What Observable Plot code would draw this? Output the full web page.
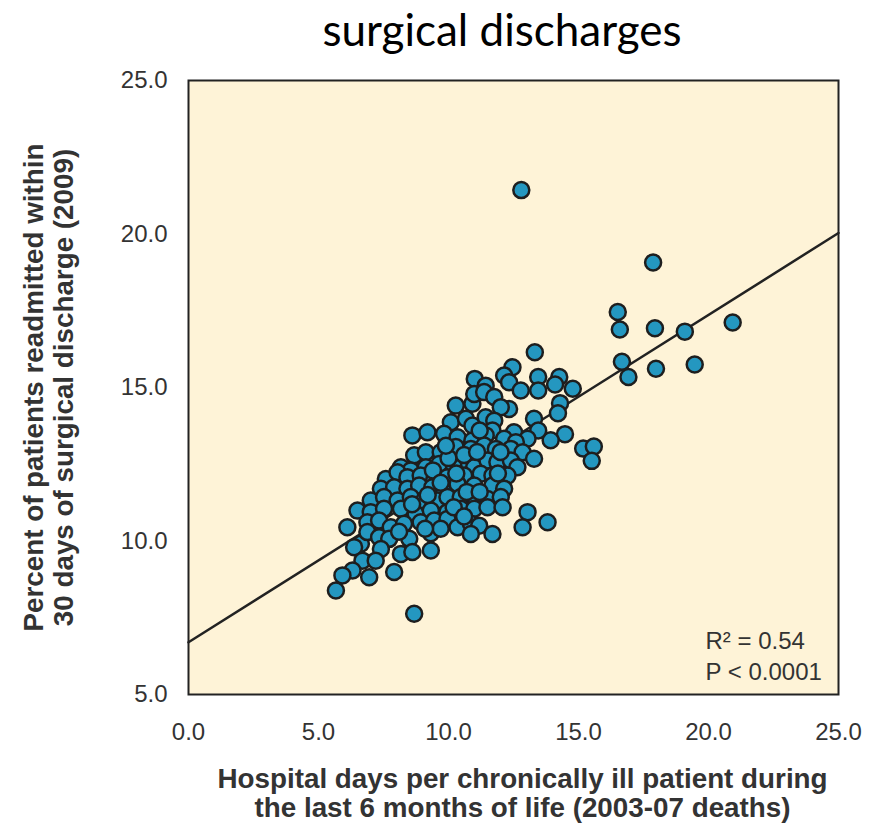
<!DOCTYPE html>
<html>
<head>
<meta charset="utf-8">
<script src="https://cdn.jsdelivr.net/npm/d3@7"></script>
<script src="https://cdn.jsdelivr.net/npm/@observablehq/plot@0.6"></script>
<style>
  body { margin: 0; background: #ffffff; }
  #title {
    width: 879px; height: 56px; box-sizing: border-box;
    padding-left: 125px; text-align: center;
    font-family: Lato, "Open Sans", sans-serif; font-size: 44px;
    line-height: 58px; color: #000;
  }
</style>
</head>
<body>
<div id="title">surgical discharges</div>
<div id="chart"></div>
<script>
// Hospital days per chronically ill patient (x) and % readmitted within 30 days (y)
const hospitalDays = [
  12.80,17.87,16.51,16.59,17.94,19.09,20.93,16.67,16.92,17.98,19.47,13.32,14.26,14.78,14.10,14.29,14.21,14.48,13.93,15.18,15.59,15.51,
  12.46,11.01,11.43,12.14,12.33,12.78,13.45,13.45,
  10.28,10.92,10.99,11.37,11.76,12.33,12.01,
  10.09,10.67,10.92,11.43,11.76,11.69,12.52,13.29,13.45,13.04,
  8.61,9.19,9.83,10.35,10.92,11.43,12.14,12.59,
  8.68,9.13,9.70,10.28,10.86,11.37,11.82,12.40,12.85,13.29,
  8.17,8.55,9.13,9.64,10.22,10.79,10.99,11.50,11.88,12.40,12.65,
  7.59,8.04,8.42,8.93,9.45,9.96,10.60,11.24,11.69,12.27,
  7.40,7.91,8.42,8.87,9.38,9.83,10.35,10.99,11.69,12.14,
  7.01,7.52,8.04,8.55,9.06,9.58,9.96,10.47,10.99,11.50,12.01,
  6.50,7.01,7.52,8.17,8.74,9.32,9.96,10.47,10.99,11.50,12.08,
  6.11,6.88,7.33,7.78,8.29,8.93,9.45,9.96,10.35,10.86,11.18,11.69,10.86,
  6.63,6.88,7.33,7.72,8.49,9.32,9.70,
  6.37,7.40,8.17,8.61,9.32,
  6.69,7.20,6.31,5.92,6.95,7.91,
  5.67,8.68,
  13.04,12.85,13.81,
  9.4,10.0,10.6,11.1,9.7,10.3,10.7,11.2,9.2,8.6,10.2,10.6,9.1,11.9,12.0,9.9,11.2,8.1
];
const readmitPct = [
  21.43,19.07,17.46,16.89,16.93,16.82,17.12,15.84,15.34,15.61,15.75,16.15,15.34,14.96,15.10,14.49,14.16,13.48,13.28,13.01,13.08,12.61,
  15.66,15.28,15.06,15.39,15.17,14.90,15.34,14.90,
  14.41,14.47,14.79,14.85,14.69,14.30,14.36,
  13.87,13.98,13.76,14.03,13.92,13.60,13.54,13.98,13.60,13.33,
  13.44,13.54,13.49,13.38,13.27,13.44,13.33,13.22,
  12.79,12.89,12.89,13.06,13.00,13.11,13.00,13.00,12.89,12.68,
  12.40,12.30,12.40,12.51,12.40,12.51,12.40,12.62,12.57,12.62,12.40,
  12.02,12.24,12.08,12.13,11.99,12.08,12.13,12.19,12.13,12.13,
  11.70,11.75,11.70,11.81,11.75,11.59,11.86,11.81,11.81,11.70,
  11.32,11.43,11.32,11.43,11.32,11.32,11.43,11.43,11.43,11.37,11.43,
  10.99,10.94,11.05,11.05,10.88,10.99,10.94,11.05,11.05,11.10,11.10,
  10.45,10.61,10.67,10.45,10.56,10.61,10.67,10.72,10.45,10.56,10.50,10.23,10.23,
  9.91,10.29,10.12,10.07,10.07,10.25,10.40,
  9.80,9.74,9.58,9.64,9.69,
  9.36,9.36,9.04,8.88,8.82,8.99,
  8.39,7.63,
  10.94,10.45,10.61,
  12.3,12.7,12.8,12.9,11.9,12.2,11.6,11.6,11.5,11.2,11.1,10.8,10.4,12.2,12.9,13.1,13.6,10.3
];
const xTicks = [0, 5, 10, 15, 20, 25];
const yTicks = [5, 10, 15, 20, 25];
const regIntercept = 6.7;
const regSlope = 0.5333;
const statsLabel = "R\u00B2 = 0.54\nP < 0.0001";
const xLabel = "Hospital days per chronically ill patient during\nthe last 6 months of life (2003-07 deaths)";
const yLabel = "Percent of patients readmitted within\n30 days of surgical discharge (2009)";

const data = hospitalDays.map((x, i) => ({x, y: readmitPct[i]}));
const regLine = [0, 25].map(x => ({x, y: regIntercept + regSlope * x}));

const chart = Plot.plot({
  width: 879,
  height: 770,
  marginTop: 24,
  marginLeft: 188,
  marginRight: 41,
  marginBottom: 132,
  style: {fontFamily: "'Liberation Sans', Arial, sans-serif", fontSize: "24px", color: "#333", background: "#fff"},
  x: {domain: [0, 25], ticks: xTicks, tickFormat: d3.format(".1f"), tickSize: 0, tickPadding: 28, label: null},
  y: {domain: [5, 25], ticks: yTicks, tickFormat: d3.format(".1f"), tickSize: 0, tickPadding: 21, label: null},
  marks: [
    Plot.frame({fill: "#fef3d7", stroke: null}),
    Plot.line(regLine, {x: "x", y: "y", stroke: "#222", strokeWidth: 2.5}),
    Plot.dot(data, {x: "x", y: "y", r: 8, fill: "#2497c0", stroke: "#1e1e1e", strokeWidth: 2.5, fillOpacity: 1}),
    Plot.frame({stroke: "#222", strokeWidth: 2}),
    Plot.text([statsLabel], {frameAnchor: "bottom-right", textAnchor: "start", lineAnchor: "top", dx: -133, dy: -67, fontSize: 24, lineHeight: 1.28, fill: "#333"}),
    Plot.text([xLabel], {frameAnchor: "bottom", textAnchor: "middle", lineAnchor: "top", dx: 9, dy: 73, fontSize: 27.8, fontWeight: "bold", lineHeight: 1.04, fill: "#333"}),
    Plot.text([yLabel], {frameAnchor: "left", textAnchor: "middle", lineAnchor: "top", rotate: -90, dx: -166, fontSize: 27.8, fontWeight: "bold", lineHeight: 1.06, fill: "#333"})
  ]
});
document.getElementById("chart").appendChild(chart);
</script>
</body>
</html>
